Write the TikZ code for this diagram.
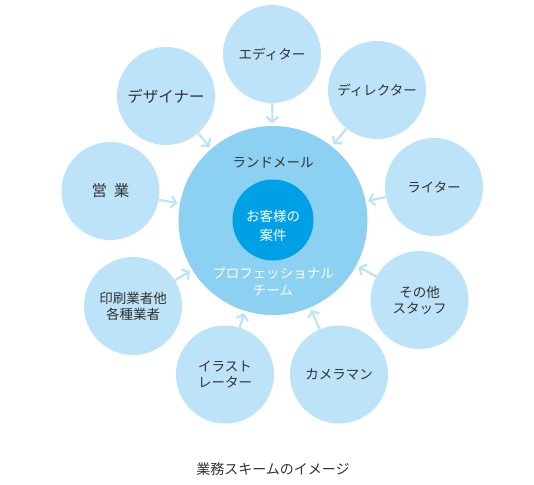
\documentclass[tikz,border=0pt]{standalone}
\usepackage{fontspec}
\setmainfont{Noto Sans CJK JP}
\usetikzlibrary{arrows.meta}
\definecolor{lightc}{HTML}{BDE3F8}
\definecolor{midc}{HTML}{8CD0F2}
\definecolor{darkc}{HTML}{00A0E6}
\definecolor{txt}{HTML}{333333}
\begin{document}
\begin{tikzpicture}[x=1pt,y=-1pt,
  member/.style={circle,fill=lightc,minimum size=98pt,inner sep=0pt,align=center,text=txt,font=\fontsize{13.5}{16}\selectfont},
  bigfont/.style={font=\fontsize{15.5}{18}\selectfont},
  feed/.style={draw=lightc,line width=2.2pt,-{Straight Barb[length=5pt,width=12pt]},shorten >=2.5pt},
  lbl/.style={inner sep=0pt,align=center,font=\fontsize{13.5}{16}\selectfont}]
\useasboundingbox (0,0) rectangle (534,484);
% central circles
\node[circle,fill=midc,minimum size=189pt,inner sep=0pt] (team) at (273,220.5) {};
\node[circle,fill=darkc,minimum size=81pt,inner sep=0pt] (core) at (273,220) {};
\node[lbl,text=white,font=\fontsize{13.5}{19}\selectfont] (coret) at (273,226) {お客様の\\案件};
\node[lbl,text=txt] (land) at (273,163) {ランドメール};
\node[lbl,text=white,font=\fontsize{13.5}{16.5}\selectfont] (prof) at (273,281.5) {プロフェッショナル\\チーム};
% members
\node[member] (editor) at (272,54) {エディター};
\node[member,bigfont] (designer) at (166,96) {デザイナー};
\node[member] (director) at (377,90) {ディレクター};
\node[member] (writer) at (434,187) {ライター};
\node[member,bigfont] (sales) at (110.5,191) {営\hspace{0.45em}業};
\node[member] (printer) at (133,306) {印刷業者他\\各種業者};
\node[member] (illust) at (225,374.5) {イラスト\\レーター};
\node[member] (camera) at (339,374.5) {カメラマン};
\node[member] (other) at (419.5,300) {その他\\スタッフ};
% arrows
\foreach \m in {editor,designer,director,writer,sales,printer,illust,camera,other}
  \draw[feed] (\m) -- (team);
% caption
\node[lbl,text=txt,font=\fontsize{14}{16}\selectfont] (caption) at (273,469) {業務スキームのイメージ};
\end{tikzpicture}
\end{document}
